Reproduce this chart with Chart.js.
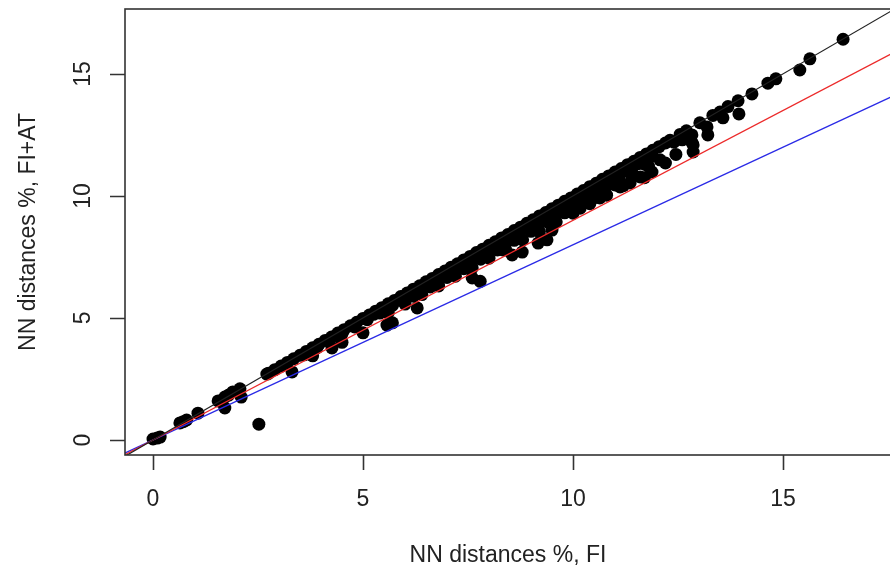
<!DOCTYPE html>
<html>
<head>
<meta charset="utf-8">
<script src="https://cdn.jsdelivr.net/npm/chart.js@4/dist/chart.umd.min.js"></script>
<style>
  html, body { margin: 0; padding: 0; background: #fff; overflow: hidden; }
  #wrap { width: 892px; height: 569px; }
</style>
</head>
<body>
<div id="wrap"><canvas id="nnChart" width="892" height="569"></canvas></div>
<script>
// NN distances (%) with FI only vs. with FI+AT
const fiDistances = [
  0.00, 0.10, 0.17, 0.64, 0.72, 0.80, 1.07, 1.55, 1.62, 1.71, 1.71, 1.80, 1.90, 2.07, 2.10, 2.52, 2.71,
  2.75, 2.90, 3.05, 3.20, 3.35, 3.50, 3.65, 3.80, 3.95, 4.10, 4.25, 4.40, 4.55, 4.70, 4.85, 5.00,
  5.15, 5.30, 5.45, 5.60, 5.75, 5.90, 6.05, 6.20, 6.35, 6.50, 6.65, 6.80, 6.95, 7.10, 7.25, 7.40,
  7.55, 7.70, 7.85, 8.00, 8.15, 8.30, 8.45, 8.60, 8.75, 8.90, 9.05, 9.20, 9.35, 9.50, 9.65, 9.80,
  9.95, 10.10, 10.25, 10.40, 10.55, 10.70, 10.85, 11.00, 11.15, 11.30, 11.45, 11.60, 11.75, 11.90,
  12.05, 12.20,
  3.6, 3.9, 4.2, 4.5, 4.8, 5.1, 5.4, 5.7, 6.0, 6.3, 6.6, 6.9, 7.2, 7.5, 7.8, 8.1, 8.4, 8.7, 9.0,
  9.3, 9.6, 9.9, 10.2, 10.5, 10.8, 11.1, 11.4, 11.7,
  5.6, 6.0, 6.4, 6.8, 7.2, 7.6, 8.0, 8.4, 8.8, 9.2, 9.6, 10.0, 10.4, 10.8, 11.2, 11.6,
  6.2, 6.6, 7.0, 7.4, 7.8, 8.2, 8.6, 9.0, 9.4, 9.8, 10.2, 10.6, 11.0, 11.4, 11.8,
  5.25, 5.55, 5.85, 6.15, 6.45, 6.75, 7.05, 7.35, 7.65, 7.95, 8.25, 8.55, 8.85, 9.15, 9.45, 9.75,
  10.05, 10.35, 10.65, 10.95, 11.25, 11.55, 11.85,
  3.31, 3.80, 4.26, 4.50, 5.00, 5.57, 5.70, 6.29, 7.60, 7.79, 8.33, 8.55, 8.79, 9.17, 9.38, 9.50,
  10.17, 10.48, 10.64, 11.12, 11.36, 11.70, 11.88, 12.07, 12.20, 12.45, 12.86, 12.83,
  12.31, 12.55, 12.40, 12.60, 12.70, 12.83, 12.86, 13.02, 13.19, 13.21, 13.33, 13.50, 13.57, 13.69,
  13.93, 13.95, 14.26, 14.64, 14.83, 15.40, 15.64, 16.43
];
const fiAtDistances = [
  0.04, 0.08, 0.12, 0.70, 0.75, 0.82, 1.10, 1.60, 1.58, 1.31, 1.76, 1.84, 1.97, 2.10, 1.76, 0.65, 2.70,
  2.73, 2.88, 3.03, 3.18, 3.33, 3.47, 3.63, 3.78, 3.92, 4.08, 4.22, 4.38, 4.52, 4.68, 4.82, 4.98,
  5.12, 5.28, 5.42, 5.58, 5.72, 5.88, 6.02, 6.18, 6.32, 6.48, 6.62, 6.78, 6.92, 7.08, 7.22, 7.38,
  7.52, 7.68, 7.82, 7.98, 8.12, 8.28, 8.42, 8.58, 8.72, 8.88, 9.02, 9.18, 9.32, 9.48, 9.62, 9.78,
  9.92, 10.08, 10.22, 10.38, 10.52, 10.68, 10.82, 10.98, 11.12, 11.28, 11.42, 11.58, 11.72, 11.87,
  12.02, 12.17,
  3.49, 3.77, 4.06, 4.35, 4.63, 4.93, 5.20, 5.51, 5.78, 6.09, 6.36, 6.67, 6.94, 7.25, 7.52, 7.83,
  8.10, 8.41, 8.68, 8.98, 9.25, 9.56, 9.83, 10.14, 10.41, 10.72, 10.99, 11.30,
  5.22, 5.57, 5.96, 6.31, 6.71, 7.05, 7.45, 7.79, 8.20, 8.54, 8.94, 9.29, 9.68, 10.03, 10.42, 10.78,
  5.89, 6.27, 6.66, 7.02, 7.41, 7.79, 8.18, 8.55, 8.93, 9.31, 9.69, 10.07, 10.45, 10.83, 11.21,
  5.15, 5.44, 5.73, 6.03, 6.32, 6.62, 6.91, 7.20, 7.50, 7.79, 8.09, 8.38, 8.67, 8.97, 9.26, 9.56,
  9.85, 10.14, 10.44, 10.73, 11.03, 11.32, 11.61,
  2.79, 3.45, 3.77, 4.00, 4.39, 4.71, 4.80, 5.41, 6.64, 6.50, 7.79, 7.58, 7.70, 8.07, 8.20, 8.60,
  9.50, 9.90, 9.92, 10.37, 10.53, 10.75, 10.98, 11.48, 11.35, 11.70, 11.80, 12.20,
  12.28, 12.52, 12.20, 12.30, 12.67, 12.50, 12.09, 13.00, 12.83, 12.50, 13.30, 13.44, 13.20, 13.66,
  13.90, 13.36, 14.18, 14.62, 14.80, 15.16, 15.62, 16.42
];

// reference lines: y = x, y = 0.9x, y = 0.8x (end points)
const lineEndsX = [-1, 18];
const identityEndsY = [-1, 18];
const redEndsY = [-0.9, 16.2];
const blueEndsY = [-0.8, 14.4];

const xTicks = [0, 5, 10, 15];
const yTicks = [0, 5, 10, 15];

const pairs = (xs, ys) => xs.map((v, i) => ({ x: v, y: ys[i] }));

// R style box, ticks and labels
const rAxes = {
  id: "rAxes",
  afterDatasetsDraw(chart) {
    const { ctx, chartArea: a, scales: { x, y } } = chart;
    ctx.save();
    ctx.strokeStyle = "#333";
    ctx.lineWidth = 1.6;
    ctx.strokeRect(a.left, a.top, a.right - a.left, a.bottom - a.top);
    ctx.beginPath();
    xTicks.forEach((v) => {
      const px = Math.round(x.getPixelForValue(v)) + 0.5;
      ctx.moveTo(px, a.bottom);
      ctx.lineTo(px, a.bottom + 15);
    });
    yTicks.forEach((v) => {
      const py = Math.round(y.getPixelForValue(v)) + 0.5;
      ctx.moveTo(a.left, py);
      ctx.lineTo(a.left - 15, py);
    });
    ctx.stroke();

    ctx.fillStyle = "#222";
    ctx.font = '23px "Liberation Sans", Arial, sans-serif';
    ctx.textAlign = "center";
    ctx.textBaseline = "middle";
    xTicks.forEach((v) => ctx.fillText(String(v), x.getPixelForValue(v), a.bottom + 45));
    yTicks.forEach((v) => {
      ctx.save();
      ctx.translate(a.left - 41, y.getPixelForValue(v));
      ctx.rotate(-Math.PI / 2);
      ctx.fillText(String(v), 0, 0);
      ctx.restore();
    });
    ctx.fillText("NN distances %, FI", (a.left + a.right) / 2, a.bottom + 101);
    ctx.save();
    ctx.translate(29, (a.top + a.bottom) / 2);
    ctx.rotate(-Math.PI / 2);
    ctx.fillText("NN distances %, FI+AT", 0, 0);
    ctx.restore();
    ctx.restore();
  },
};

const ctx = document.getElementById("nnChart").getContext("2d");
new Chart(ctx, {
  type: "scatter",
  data: {
    datasets: [
      {
        label: "NN distances",
        data: pairs(fiDistances, fiAtDistances),
        backgroundColor: "#000",
        borderWidth: 0,
        pointRadius: 6.5,
        order: 2,
      },
      {
        type: "line",
        label: "y = x",
        data: pairs(lineEndsX, identityEndsY),
        borderColor: "#222",
        borderWidth: 1.2,
        pointRadius: 0,
        order: 1,
      },
      {
        type: "line",
        label: "0.9",
        data: pairs(lineEndsX, redEndsY),
        borderColor: "#ec2a2a",
        borderWidth: 1.3,
        pointRadius: 0,
        order: 1,
      },
      {
        type: "line",
        label: "0.8",
        data: pairs(lineEndsX, blueEndsY),
        borderColor: "#2a2ae6",
        borderWidth: 1.3,
        pointRadius: 0,
        order: 1,
      },
    ],
  },
  options: {
    responsive: false,
    devicePixelRatio: 1,
    animation: false,
    layout: { autoPadding: false, padding: { left: 125, top: 9, right: 1, bottom: 114 } },
    scales: {
      x: { type: "linear", min: -0.667, max: 17.571, display: false },
      y: { type: "linear", min: -0.615, max: 17.66, display: false },
    },
    plugins: {
      legend: { display: false },
      tooltip: { enabled: false },
    },
  },
  plugins: [rAxes],
});
</script>
</body>
</html>
